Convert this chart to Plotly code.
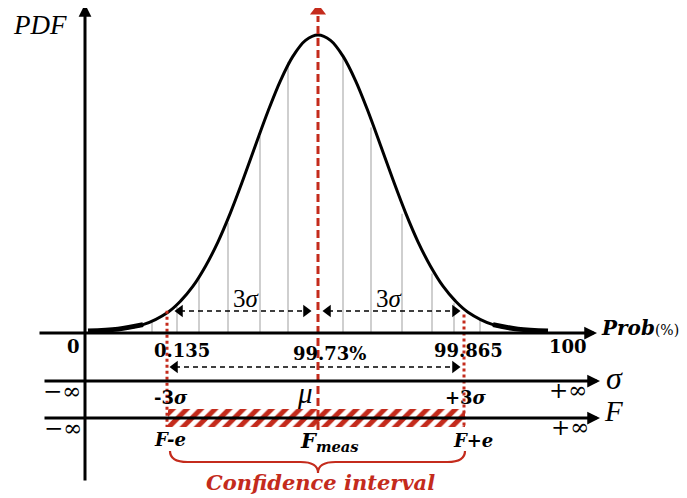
import plotly.graph_objects as go

# ---- data (x in sigma units, mu = 0; y = relative PDF) ----
curve_x = [-4.6, -4.0, -3.5, -3.0, -2.75, -2.5, -2.25, -2.0, -1.75, -1.5, -1.25, -1.0, -0.75, -0.5, -0.25, 0.0,
           0.25, 0.5, 0.75, 1.0, 1.25, 1.5, 1.75, 2.0, 2.25, 2.5, 2.75, 3.0, 3.5, 4.0, 4.6]
curve_pdf = [0.007, 0.013, 0.028, 0.070, 0.107, 0.157, 0.224, 0.306, 0.404, 0.514, 0.630, 0.744, 0.847, 0.929, 0.982, 1.0,
             0.982, 0.929, 0.847, 0.744, 0.630, 0.514, 0.404, 0.306, 0.224, 0.157, 0.107, 0.070, 0.028, 0.013, 0.007]
grid_x = [-3.32, -2.82, -2.38, -1.8, -1.16, -0.6, 0.5, 1.06, 1.68, 2.28, 2.72, 3.24]
grid_top = [0.037, 0.087, 0.19, 0.37, 0.66, 0.91, 0.93, 0.69, 0.40, 0.20, 0.10, 0.05]
sigma_lo, mu, sigma_hi = -3.0, 0.0, 3.0
prob_labels = ["0", "0.135", "99.73%", "99.865", "100"]
sigma_labels = ["−∞", "-3<i>σ</i>", "<i>μ</i>", "+3<i>σ</i>", "+∞"]
f_labels = ["−∞", "<b><i>F-e</i></b>", "<b><i>F</i></b><sub><b><i>meas</i></b></sub>", "<b><i>F+e</i></b>", "+∞"]

RED = "#C42B1C"
BLACK = "#000000"
OFF = 8  # page body margin

# pixel helpers for layout geometry (x: 50 px per sigma, y: 298 px per unit)
def px(v):
    return (v - 318) / 50.0

def py(v):
    return (333 - v) / 298.0

Y_PROB, Y_SIG, Y_F = 0.0, py(381), py(418)

fig = go.Figure()

# hatched confidence bar
fig.add_trace(go.Bar(
    orientation="h", base=[sigma_lo], x=[sigma_hi - sigma_lo - 0.06], y=[Y_F],
    width=py(409) - py(427),
    marker=dict(color="white", line=dict(width=0),
                pattern=dict(shape="/", fgcolor=RED, bgcolor="white", fgopacity=1,
                             size=10, solidity=0.5)),
    hoverinfo="skip", showlegend=False))

# grid lines under the curve
gx, gy = [], []
for x, t in zip(grid_x, grid_top):
    gx += [x, x, None]
    gy += [0, t, None]
fig.add_trace(go.Scatter(x=gx, y=gy, mode="lines", line=dict(color="#b5b5b5", width=1.3),
                         hoverinfo="skip", showlegend=False))

# PDF curve
fig.add_trace(go.Scatter(x=curve_x, y=curve_pdf, mode="lines", line_shape="spline",
                         line=dict(color=BLACK, width=3), hoverinfo="skip", showlegend=False))
# thicker tails
fig.add_trace(go.Scatter(x=curve_x[:3], y=curve_pdf[:3], mode="lines", line_shape="spline",
                         line=dict(color=BLACK, width=5), hoverinfo="skip", showlegend=False))
fig.add_trace(go.Scatter(x=curve_x[-3:], y=curve_pdf[-3:], mode="lines", line_shape="spline",
                         line=dict(color=BLACK, width=5), hoverinfo="skip", showlegend=False))

# red dotted -3sigma / +3sigma lines
for xv, top in [(px(167), 0.075), (px(464), 0.062)]:
    fig.add_trace(go.Scatter(x=[xv, xv], y=[top, py(427)], mode="lines",
                             line=dict(color=RED, width=3, dash="dot"),
                             hoverinfo="skip", showlegend=False))

# dashed double arrows
def dashed_arrow(x0, x1, y):
    fig.add_trace(go.Scatter(x=[x0 + 0.1, x1 - 0.1], y=[y, y], mode="lines",
                             line=dict(color=BLACK, width=1.5, dash="5px,4px"),
                             hoverinfo="skip", showlegend=False))
    fig.add_trace(go.Scatter(x=[x0 + 0.1, x1 - 0.1], y=[y, y], mode="markers",
                             marker=dict(symbol=["triangle-left", "triangle-right"], size=11, color=BLACK),
                             hoverinfo="skip", showlegend=False))

dashed_arrow(px(175), px(311), py(311))
dashed_arrow(px(323), px(460), py(311))
dashed_arrow(px(170), px(460), py(367))

# axes as annotations with arrowheads
annotations = []
def axis_arrow(x0, y0, x1, y1, color=BLACK, width=3):
    annotations.append(dict(x=x1, y=y1, ax=x0, ay=y0, xref="x", yref="y", axref="x", ayref="y",
                            text="", showarrow=True, arrowhead=2, arrowsize=0.85,
                            arrowwidth=width, arrowcolor=color, standoff=0, startstandoff=0))

axis_arrow(px(85), py(482), px(85), py(4))
axis_arrow(px(38), Y_PROB, px(597), Y_PROB)
axis_arrow(px(43), Y_SIG, px(600), Y_SIG)
axis_arrow(px(43), Y_F, px(600), Y_F)

# red dashed mean line with arrow
fig.add_trace(go.Scatter(x=[mu, mu], y=[py(430), py(16)], mode="lines",
                         line=dict(color=RED, width=3, dash="8px,4px"),
                         hoverinfo="skip", showlegend=False))
fig.add_trace(go.Scatter(x=[mu], y=[py(11)], mode="markers",
                         marker=dict(symbol="triangle-up", size=14, color=RED),
                         hoverinfo="skip", showlegend=False))

# text labels
def label(x, y, text, size=18, color=BLACK, family="DejaVu Serif", xanchor="center"):
    annotations.append(dict(x=x, y=y, xref="x", yref="y", text=text, showarrow=False,
                            font=dict(size=size, color=color, family=family),
                            xanchor=xanchor, yanchor="middle"))

SERIF = "Liberation Serif"
label(px(40), py(25), "<i>PDF</i>", size=27, family=SERIF)
label(px(599), py(328), "<b><i>Prob</i></b><span style='font-size:14px'>(%)</span>", size=20, xanchor="left")

prob_pos = [(73, 346), (182, 350), (329, 353), (468, 350), (568, 346)]
for t, (x, y) in zip(prob_labels, prob_pos):
    label(px(x), py(y), "<b>" + t + "</b>", size=18)

sig_pos = [(62, 391), (171, 397), (305, 393), (466, 397), (568, 390)]
sig_sizes = [23, 18, 29, 18, 23]
for i, (t, (x, y)) in enumerate(zip(sigma_labels, sig_pos)):
    txt = "<b>" + t + "</b>" if i in (1, 3) else t
    fam = SERIF if i == 2 else "DejaVu Serif"
    label(px(x), py(y), txt, size=sig_sizes[i], family=fam)

f_pos = [(63, 428), (170, 439), (329, 441), (473, 440), (570, 427)]
f_sizes = [23, 18, 21, 18, 23]
for t, (x, y), s in zip(f_labels, f_pos, f_sizes):
    label(px(x), py(y), t, size=s)

label(px(614), py(378), "<i>σ</i>", size=32, family=SERIF)
label(px(613), py(411), "<i>F</i>", size=29, family=SERIF)
label(px(246), py(298), "3<i>σ</i>", size=25, family=SERIF)
label(px(389), py(298), "3<i>σ</i>", size=25, family=SERIF)
label(px(320), py(482), "<b><i>Confidence interval</i></b>", size=21, color=RED)

# brace under the confidence interval
xl, xr = px(170), px(465)
y0, y1, y2 = py(451), py(462), py(473)
brace = (f"M {xl},{y0} Q {xl},{y1} {xl+0.35},{y1} L {mu-0.35},{y1} Q {mu},{y1} {mu},{y2} "
         f"Q {mu},{y1} {mu+0.35},{y1} L {xr-0.35},{y1} Q {xr},{y1} {xr},{y0}")

fig.update_layout(
    width=687 - OFF, height=498 - OFF, margin=dict(l=0, r=0, t=0, b=0),
    paper_bgcolor="white", plot_bgcolor="white", showlegend=False,
    xaxis=dict(range=[px(OFF), px(687)], visible=False, fixedrange=True),
    yaxis=dict(range=[py(498), py(OFF)], visible=False, fixedrange=True),
    annotations=annotations,
    shapes=[dict(type="path", path=brace, xref="x", yref="y",
                 line=dict(color=RED, width=2.2))],
    bargap=0,
)

fig.write_html("out.html")
